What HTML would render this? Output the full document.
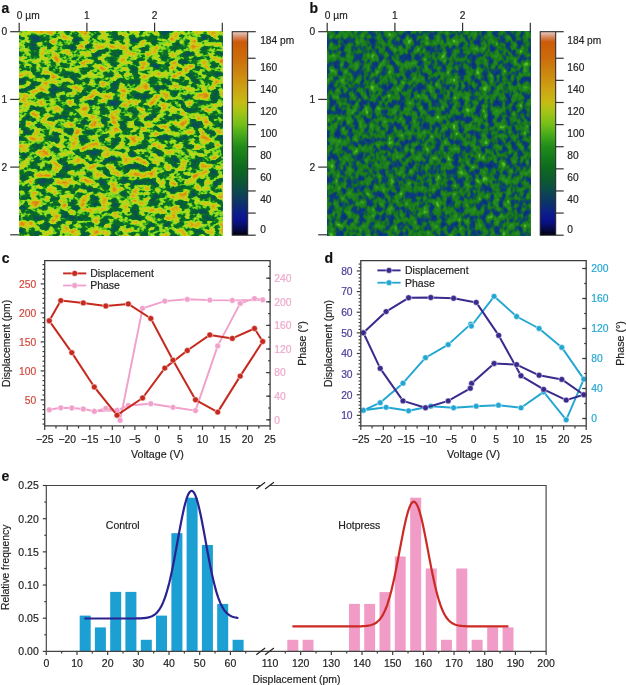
<!DOCTYPE html>
<html lang="en"><head><meta charset="utf-8"><title>Figure</title>
<style>
html,body{margin:0;padding:0;background:#fff;}
body{width:626px;height:685px;overflow:hidden;}
svg{display:block;font-family:"Liberation Sans", sans-serif;}
text{stroke-width:0.18px;paint-order:stroke;}
</style></head><body>
<svg width="626" height="685" viewBox="0 0 626 685">
<defs>
<linearGradient id="cbar" x1="0" y1="1" x2="0" y2="0">
<stop offset="0" stop-color="#02020c"/>
<stop offset="0.03" stop-color="#060a4c"/>
<stop offset="0.07" stop-color="#0a128c"/>
<stop offset="0.11" stop-color="#0c1e8a"/>
<stop offset="0.16" stop-color="#0c3468"/>
<stop offset="0.22" stop-color="#0c4a4c"/>
<stop offset="0.27" stop-color="#0c5a30"/>
<stop offset="0.33" stop-color="#0e6a1e"/>
<stop offset="0.38" stop-color="#147a1c"/>
<stop offset="0.435" stop-color="#208c1a"/>
<stop offset="0.49" stop-color="#44a81a"/>
<stop offset="0.545" stop-color="#74c018"/>
<stop offset="0.61" stop-color="#a8c416"/>
<stop offset="0.65" stop-color="#c4bc14"/>
<stop offset="0.705" stop-color="#cca814"/>
<stop offset="0.76" stop-color="#cc9410"/>
<stop offset="0.87" stop-color="#cc6c0c"/>
<stop offset="0.95" stop-color="#cc5a08"/>
<stop offset="0.975" stop-color="#d88c68"/>
<stop offset="1" stop-color="#e8d0c4"/>
</linearGradient>
<filter id="noiseA" x="0" y="0" width="100%" height="100%" color-interpolation-filters="sRGB"><feTurbulence type="fractalNoise" baseFrequency="0.1 0.14" numOctaves="3" seed="3"/><feColorMatrix type="matrix" values="0 0 0 1.4286 -0.2000  0 0 0 1.4286 -0.2000  0 0 0 1.4286 -0.2000  0 0 0 0 1"/><feComponentTransfer><feFuncR type="table" tableValues="0.047 0.046 0.045 0.044 0.043 0.041 0.04 0.039 0.039 0.039 0.039 0.039 0.039 0.039 0.039 0.04 0.041 0.043 0.044 0.045 0.046 0.075 0.162 0.248 0.355 0.461 0.528 0.57 0.611 0.653 0.691 0.729 0.766 0.801 0.811 0.821 0.831 0.841 0.848 0.852 0.855 0.858 0.862 0.863 0.863 0.863 0.863 0.863"/><feFuncG type="table" tableValues="0.267 0.274 0.282 0.29 0.298 0.306 0.313 0.321 0.33 0.339 0.348 0.357 0.366 0.375 0.383 0.395 0.407 0.419 0.431 0.443 0.455 0.494 0.591 0.687 0.755 0.822 0.85 0.854 0.858 0.862 0.852 0.839 0.827 0.814 0.794 0.774 0.754 0.734 0.714 0.694 0.674 0.653 0.633 0.611 0.588 0.564 0.541 0.518"/><feFuncB type="table" tableValues="0.439 0.424 0.408 0.392 0.377 0.361 0.346 0.33 0.31 0.29 0.27 0.25 0.23 0.21 0.19 0.182 0.175 0.167 0.16 0.153 0.146 0.138 0.128 0.118 0.124 0.131 0.129 0.123 0.117 0.111 0.104 0.098 0.092 0.086 0.084 0.083 0.081 0.079 0.078 0.076 0.074 0.073 0.071 0.069 0.068 0.066 0.064 0.063"/></feComponentTransfer></filter><filter id="noiseB" x="0" y="0" width="100%" height="100%" color-interpolation-filters="sRGB"><feTurbulence type="fractalNoise" baseFrequency="0.17 0.13" numOctaves="2" seed="5"/><feColorMatrix type="matrix" values="0 0 0 1.5152 -0.2273  0 0 0 1.5152 -0.2273  0 0 0 1.5152 -0.2273  0 0 0 0 1"/><feComponentTransfer><feFuncR type="table" tableValues="0.039 0.04 0.041 0.041 0.042 0.043 0.043 0.044 0.045 0.045 0.046 0.047 0.048 0.049 0.051 0.053 0.054 0.058 0.063 0.068 0.076 0.086 0.096 0.103 0.107 0.111 0.114 0.118 0.122 0.125 0.129 0.133 0.143 0.154 0.166 0.178 0.194 0.245 0.295 0.345"/><feFuncG type="table" tableValues="0.173 0.178 0.183 0.189 0.194 0.199 0.205 0.21 0.215 0.221 0.226 0.232 0.24 0.257 0.274 0.291 0.307 0.332 0.363 0.393 0.419 0.442 0.464 0.481 0.487 0.494 0.5 0.506 0.513 0.519 0.526 0.532 0.544 0.557 0.571 0.584 0.602 0.647 0.692 0.737"/><feFuncB type="table" tableValues="0.502 0.5 0.498 0.496 0.494 0.492 0.49 0.488 0.486 0.484 0.482 0.48 0.472 0.45 0.428 0.407 0.385 0.336 0.271 0.205 0.164 0.146 0.129 0.118 0.118 0.118 0.118 0.118 0.118 0.118 0.118 0.118 0.118 0.118 0.118 0.118 0.119 0.126 0.134 0.141"/></feComponentTransfer></filter>
</defs>

<rect x="19.2" y="31.7" width="203.5" height="203.5" fill="#569f25"/>
<rect x="19.2" y="31.7" width="203.5" height="203.5" fill="#569f25" filter="url(#noiseA)"/>
<line x1="19.2" y1="22.7" x2="19.2" y2="31.7" stroke="#333" stroke-width="1.2"/>
<line x1="86.9" y1="22.7" x2="86.9" y2="31.7" stroke="#333" stroke-width="1.2"/>
<line x1="154.6" y1="22.7" x2="154.6" y2="31.7" stroke="#333" stroke-width="1.2"/>
<line x1="222.3" y1="22.7" x2="222.3" y2="31.7" stroke="#333" stroke-width="1.2"/>
<line x1="10.2" y1="31.7" x2="19.2" y2="31.7" stroke="#333" stroke-width="1.2"/>
<line x1="10.2" y1="99.4" x2="19.2" y2="99.4" stroke="#333" stroke-width="1.2"/>
<line x1="10.2" y1="167.1" x2="19.2" y2="167.1" stroke="#333" stroke-width="1.2"/>
<line x1="10.2" y1="234.8" x2="19.2" y2="234.8" stroke="#333" stroke-width="1.2"/>
<text x="16.8" y="19" font-size="10.2" fill="#222" stroke="#222" text-anchor="start" font-weight="normal">0 µm</text>
<text x="86.9" y="19" font-size="10.2" fill="#222" stroke="#222" text-anchor="middle" font-weight="normal">1</text>
<text x="154.6" y="19" font-size="10.2" fill="#222" stroke="#222" text-anchor="middle" font-weight="normal">2</text>
<text x="7.199999999999999" y="35.2" font-size="10.2" fill="#222" stroke="#222" text-anchor="end" font-weight="normal">0</text>
<text x="7.199999999999999" y="102.9" font-size="10.2" fill="#222" stroke="#222" text-anchor="end" font-weight="normal">1</text>
<text x="7.199999999999999" y="170.6" font-size="10.2" fill="#222" stroke="#222" text-anchor="end" font-weight="normal">2</text>
<text x="1.5" y="13" font-size="14" fill="#111" stroke="#111" text-anchor="start" font-weight="bold">a</text>
<rect x="232.2" y="31.7" width="15.5" height="203.5" fill="url(#cbar)" stroke="#222" stroke-width="1"/>
<line x1="247.7" y1="235.2" x2="255.7" y2="235.2" stroke="#333" stroke-width="1.2"/>
<line x1="247.7" y1="213.08" x2="255.7" y2="213.08" stroke="#333" stroke-width="1.2"/>
<line x1="247.7" y1="190.96" x2="255.7" y2="190.96" stroke="#333" stroke-width="1.2"/>
<line x1="247.7" y1="168.84" x2="255.7" y2="168.84" stroke="#333" stroke-width="1.2"/>
<line x1="247.7" y1="146.72" x2="255.7" y2="146.72" stroke="#333" stroke-width="1.2"/>
<line x1="247.7" y1="124.6" x2="255.7" y2="124.6" stroke="#333" stroke-width="1.2"/>
<line x1="247.7" y1="102.48" x2="255.7" y2="102.48" stroke="#333" stroke-width="1.2"/>
<line x1="247.7" y1="80.36" x2="255.7" y2="80.36" stroke="#333" stroke-width="1.2"/>
<line x1="247.7" y1="58.24" x2="255.7" y2="58.24" stroke="#333" stroke-width="1.2"/>
<line x1="247.7" y1="31.7" x2="255.7" y2="31.7" stroke="#333" stroke-width="1.2"/>
<text x="260.2" y="232.6" font-size="10.2" fill="#222" stroke="#222" text-anchor="start" font-weight="normal">0</text>
<text x="260.2" y="203.4" font-size="10.2" fill="#222" stroke="#222" text-anchor="start" font-weight="normal">40</text>
<text x="260.2" y="181.2" font-size="10.2" fill="#222" stroke="#222" text-anchor="start" font-weight="normal">60</text>
<text x="260.2" y="159.1" font-size="10.2" fill="#222" stroke="#222" text-anchor="start" font-weight="normal">80</text>
<text x="260.2" y="137.0" font-size="10.2" fill="#222" stroke="#222" text-anchor="start" font-weight="normal">100</text>
<text x="260.2" y="114.9" font-size="10.2" fill="#222" stroke="#222" text-anchor="start" font-weight="normal">120</text>
<text x="260.2" y="92.8" font-size="10.2" fill="#222" stroke="#222" text-anchor="start" font-weight="normal">140</text>
<text x="260.2" y="70.6" font-size="10.2" fill="#222" stroke="#222" text-anchor="start" font-weight="normal">160</text>
<text x="260.2" y="44.1" font-size="10.2" fill="#222" stroke="#222" text-anchor="start" font-weight="normal">184 pm</text>
<rect x="327.2" y="31.7" width="203.5" height="203.5" fill="#16673c"/>
<rect x="327.2" y="31.7" width="203.5" height="203.5" fill="#16673c" filter="url(#noiseB)"/>
<line x1="327.2" y1="22.7" x2="327.2" y2="31.7" stroke="#333" stroke-width="1.2"/>
<line x1="394.9" y1="22.7" x2="394.9" y2="31.7" stroke="#333" stroke-width="1.2"/>
<line x1="462.6" y1="22.7" x2="462.6" y2="31.7" stroke="#333" stroke-width="1.2"/>
<line x1="530.3" y1="22.7" x2="530.3" y2="31.7" stroke="#333" stroke-width="1.2"/>
<line x1="318.2" y1="31.7" x2="327.2" y2="31.7" stroke="#333" stroke-width="1.2"/>
<line x1="318.2" y1="99.4" x2="327.2" y2="99.4" stroke="#333" stroke-width="1.2"/>
<line x1="318.2" y1="167.1" x2="327.2" y2="167.1" stroke="#333" stroke-width="1.2"/>
<line x1="318.2" y1="234.8" x2="327.2" y2="234.8" stroke="#333" stroke-width="1.2"/>
<text x="324.8" y="19" font-size="10.2" fill="#222" stroke="#222" text-anchor="start" font-weight="normal">0 µm</text>
<text x="394.9" y="19" font-size="10.2" fill="#222" stroke="#222" text-anchor="middle" font-weight="normal">1</text>
<text x="462.6" y="19" font-size="10.2" fill="#222" stroke="#222" text-anchor="middle" font-weight="normal">2</text>
<text x="315.2" y="35.2" font-size="10.2" fill="#222" stroke="#222" text-anchor="end" font-weight="normal">0</text>
<text x="315.2" y="102.9" font-size="10.2" fill="#222" stroke="#222" text-anchor="end" font-weight="normal">1</text>
<text x="315.2" y="170.6" font-size="10.2" fill="#222" stroke="#222" text-anchor="end" font-weight="normal">2</text>
<text x="309.5" y="13" font-size="14" fill="#111" stroke="#111" text-anchor="start" font-weight="bold">b</text>
<rect x="540.2" y="31.7" width="15.5" height="203.5" fill="url(#cbar)" stroke="#222" stroke-width="1"/>
<line x1="555.7" y1="235.2" x2="563.7" y2="235.2" stroke="#333" stroke-width="1.2"/>
<line x1="555.7" y1="213.08" x2="563.7" y2="213.08" stroke="#333" stroke-width="1.2"/>
<line x1="555.7" y1="190.96" x2="563.7" y2="190.96" stroke="#333" stroke-width="1.2"/>
<line x1="555.7" y1="168.84" x2="563.7" y2="168.84" stroke="#333" stroke-width="1.2"/>
<line x1="555.7" y1="146.72" x2="563.7" y2="146.72" stroke="#333" stroke-width="1.2"/>
<line x1="555.7" y1="124.6" x2="563.7" y2="124.6" stroke="#333" stroke-width="1.2"/>
<line x1="555.7" y1="102.48" x2="563.7" y2="102.48" stroke="#333" stroke-width="1.2"/>
<line x1="555.7" y1="80.36" x2="563.7" y2="80.36" stroke="#333" stroke-width="1.2"/>
<line x1="555.7" y1="58.24" x2="563.7" y2="58.24" stroke="#333" stroke-width="1.2"/>
<line x1="555.7" y1="31.7" x2="563.7" y2="31.7" stroke="#333" stroke-width="1.2"/>
<text x="567.3000000000001" y="232.6" font-size="10.2" fill="#222" stroke="#222" text-anchor="start" font-weight="normal">0</text>
<text x="567.3000000000001" y="203.4" font-size="10.2" fill="#222" stroke="#222" text-anchor="start" font-weight="normal">40</text>
<text x="567.3000000000001" y="181.2" font-size="10.2" fill="#222" stroke="#222" text-anchor="start" font-weight="normal">60</text>
<text x="567.3000000000001" y="159.1" font-size="10.2" fill="#222" stroke="#222" text-anchor="start" font-weight="normal">80</text>
<text x="567.3000000000001" y="137.0" font-size="10.2" fill="#222" stroke="#222" text-anchor="start" font-weight="normal">100</text>
<text x="567.3000000000001" y="114.9" font-size="10.2" fill="#222" stroke="#222" text-anchor="start" font-weight="normal">120</text>
<text x="567.3000000000001" y="92.8" font-size="10.2" fill="#222" stroke="#222" text-anchor="start" font-weight="normal">140</text>
<text x="567.3000000000001" y="70.6" font-size="10.2" fill="#222" stroke="#222" text-anchor="start" font-weight="normal">160</text>
<text x="567.3000000000001" y="44.1" font-size="10.2" fill="#222" stroke="#222" text-anchor="start" font-weight="normal">184 pm</text>
<polyline points="49.3,409.8 60.8,407.8 71.8,408 83.3,409 94.3,411.3 105.8,408.3 117,410.3 128.3,405.5 150.8,403.7 173,407.3 195.5,410.6 217.7,345.9 240.2,303.4 254.5,298.6 262.7,299.8 232.3,300.4 209.8,300.1 187.3,299.3 164.8,301.1 142.6,308.3 120.1,420.3 117,410.3 94.3,411.3" fill="none" stroke="#f0a0ca" stroke-width="1.9" stroke-linejoin="round"/>
<circle cx="49.3" cy="409.8" r="2.9" fill="#f0a0ca" stroke="#fff" stroke-width="0.5"/>
<circle cx="60.8" cy="407.8" r="2.9" fill="#f0a0ca" stroke="#fff" stroke-width="0.5"/>
<circle cx="71.8" cy="408" r="2.9" fill="#f0a0ca" stroke="#fff" stroke-width="0.5"/>
<circle cx="83.3" cy="409" r="2.9" fill="#f0a0ca" stroke="#fff" stroke-width="0.5"/>
<circle cx="94.3" cy="411.3" r="2.9" fill="#f0a0ca" stroke="#fff" stroke-width="0.5"/>
<circle cx="105.8" cy="408.3" r="2.9" fill="#f0a0ca" stroke="#fff" stroke-width="0.5"/>
<circle cx="117" cy="410.3" r="2.9" fill="#f0a0ca" stroke="#fff" stroke-width="0.5"/>
<circle cx="128.3" cy="405.5" r="2.9" fill="#f0a0ca" stroke="#fff" stroke-width="0.5"/>
<circle cx="150.8" cy="403.7" r="2.9" fill="#f0a0ca" stroke="#fff" stroke-width="0.5"/>
<circle cx="173" cy="407.3" r="2.9" fill="#f0a0ca" stroke="#fff" stroke-width="0.5"/>
<circle cx="195.5" cy="410.6" r="2.9" fill="#f0a0ca" stroke="#fff" stroke-width="0.5"/>
<circle cx="217.7" cy="345.9" r="2.9" fill="#f0a0ca" stroke="#fff" stroke-width="0.5"/>
<circle cx="240.2" cy="303.4" r="2.9" fill="#f0a0ca" stroke="#fff" stroke-width="0.5"/>
<circle cx="254.5" cy="298.6" r="2.9" fill="#f0a0ca" stroke="#fff" stroke-width="0.5"/>
<circle cx="262.7" cy="299.8" r="2.9" fill="#f0a0ca" stroke="#fff" stroke-width="0.5"/>
<circle cx="232.3" cy="300.4" r="2.9" fill="#f0a0ca" stroke="#fff" stroke-width="0.5"/>
<circle cx="209.8" cy="300.1" r="2.9" fill="#f0a0ca" stroke="#fff" stroke-width="0.5"/>
<circle cx="187.3" cy="299.3" r="2.9" fill="#f0a0ca" stroke="#fff" stroke-width="0.5"/>
<circle cx="164.8" cy="301.1" r="2.9" fill="#f0a0ca" stroke="#fff" stroke-width="0.5"/>
<circle cx="142.6" cy="308.3" r="2.9" fill="#f0a0ca" stroke="#fff" stroke-width="0.5"/>
<circle cx="120.1" cy="420.3" r="2.9" fill="#f0a0ca" stroke="#fff" stroke-width="0.5"/>
<circle cx="117" cy="410.3" r="2.9" fill="#f0a0ca" stroke="#fff" stroke-width="0.5"/>
<circle cx="94.3" cy="411.3" r="2.9" fill="#f0a0ca" stroke="#fff" stroke-width="0.5"/>
<polyline points="49.3,320.8 60.8,300.6 83.3,302.9 105.8,306 128.3,303.9 150.8,318.5 173,360.2 195.5,399.8 217.7,412.1 240.2,376.1 262.7,341.5 254.5,328.5 232.3,338.4 209.8,334.9 187.3,350.5 164.8,368.1 142.6,398 117,415.2 94.3,387 71.8,352.6 49.3,320.8" fill="none" stroke="#c62a1e" stroke-width="2.0" stroke-linejoin="round"/>
<circle cx="49.3" cy="320.8" r="2.95" fill="#c62a1e" stroke="#fff" stroke-width="0.5"/>
<circle cx="60.8" cy="300.6" r="2.95" fill="#c62a1e" stroke="#fff" stroke-width="0.5"/>
<circle cx="83.3" cy="302.9" r="2.95" fill="#c62a1e" stroke="#fff" stroke-width="0.5"/>
<circle cx="105.8" cy="306" r="2.95" fill="#c62a1e" stroke="#fff" stroke-width="0.5"/>
<circle cx="128.3" cy="303.9" r="2.95" fill="#c62a1e" stroke="#fff" stroke-width="0.5"/>
<circle cx="150.8" cy="318.5" r="2.95" fill="#c62a1e" stroke="#fff" stroke-width="0.5"/>
<circle cx="173" cy="360.2" r="2.95" fill="#c62a1e" stroke="#fff" stroke-width="0.5"/>
<circle cx="195.5" cy="399.8" r="2.95" fill="#c62a1e" stroke="#fff" stroke-width="0.5"/>
<circle cx="217.7" cy="412.1" r="2.95" fill="#c62a1e" stroke="#fff" stroke-width="0.5"/>
<circle cx="240.2" cy="376.1" r="2.95" fill="#c62a1e" stroke="#fff" stroke-width="0.5"/>
<circle cx="262.7" cy="341.5" r="2.95" fill="#c62a1e" stroke="#fff" stroke-width="0.5"/>
<circle cx="254.5" cy="328.5" r="2.95" fill="#c62a1e" stroke="#fff" stroke-width="0.5"/>
<circle cx="232.3" cy="338.4" r="2.95" fill="#c62a1e" stroke="#fff" stroke-width="0.5"/>
<circle cx="209.8" cy="334.9" r="2.95" fill="#c62a1e" stroke="#fff" stroke-width="0.5"/>
<circle cx="187.3" cy="350.5" r="2.95" fill="#c62a1e" stroke="#fff" stroke-width="0.5"/>
<circle cx="164.8" cy="368.1" r="2.95" fill="#c62a1e" stroke="#fff" stroke-width="0.5"/>
<circle cx="142.6" cy="398" r="2.95" fill="#c62a1e" stroke="#fff" stroke-width="0.5"/>
<circle cx="117" cy="415.2" r="2.95" fill="#c62a1e" stroke="#fff" stroke-width="0.5"/>
<circle cx="94.3" cy="387" r="2.95" fill="#c62a1e" stroke="#fff" stroke-width="0.5"/>
<circle cx="71.8" cy="352.6" r="2.95" fill="#c62a1e" stroke="#fff" stroke-width="0.5"/>
<circle cx="49.3" cy="320.8" r="2.95" fill="#c62a1e" stroke="#fff" stroke-width="0.5"/>
<path d="M44.7 260.7H270.1V425.9H44.7Z" fill="none" stroke="#3c3c3c" stroke-width="1.3"/>
<line x1="44.7" y1="425.9" x2="44.7" y2="429.9" stroke="#3c3c3c" stroke-width="1.2"/>
<text x="44.7" y="442.7" font-size="10.3" fill="#222" stroke="#222" text-anchor="middle" font-weight="normal">−25</text>
<line x1="67.24" y1="425.9" x2="67.24" y2="429.9" stroke="#3c3c3c" stroke-width="1.2"/>
<text x="67.2" y="442.7" font-size="10.3" fill="#222" stroke="#222" text-anchor="middle" font-weight="normal">−20</text>
<line x1="89.78" y1="425.9" x2="89.78" y2="429.9" stroke="#3c3c3c" stroke-width="1.2"/>
<text x="89.8" y="442.7" font-size="10.3" fill="#222" stroke="#222" text-anchor="middle" font-weight="normal">−15</text>
<line x1="112.32" y1="425.9" x2="112.32" y2="429.9" stroke="#3c3c3c" stroke-width="1.2"/>
<text x="112.3" y="442.7" font-size="10.3" fill="#222" stroke="#222" text-anchor="middle" font-weight="normal">−10</text>
<line x1="134.86" y1="425.9" x2="134.86" y2="429.9" stroke="#3c3c3c" stroke-width="1.2"/>
<text x="134.9" y="442.7" font-size="10.3" fill="#222" stroke="#222" text-anchor="middle" font-weight="normal">−5</text>
<line x1="157.4" y1="425.9" x2="157.4" y2="429.9" stroke="#3c3c3c" stroke-width="1.2"/>
<text x="157.4" y="442.7" font-size="10.3" fill="#222" stroke="#222" text-anchor="middle" font-weight="normal">0</text>
<line x1="179.94" y1="425.9" x2="179.94" y2="429.9" stroke="#3c3c3c" stroke-width="1.2"/>
<text x="179.9" y="442.7" font-size="10.3" fill="#222" stroke="#222" text-anchor="middle" font-weight="normal">5</text>
<line x1="202.48" y1="425.9" x2="202.48" y2="429.9" stroke="#3c3c3c" stroke-width="1.2"/>
<text x="202.5" y="442.7" font-size="10.3" fill="#222" stroke="#222" text-anchor="middle" font-weight="normal">10</text>
<line x1="225.02" y1="425.9" x2="225.02" y2="429.9" stroke="#3c3c3c" stroke-width="1.2"/>
<text x="225.0" y="442.7" font-size="10.3" fill="#222" stroke="#222" text-anchor="middle" font-weight="normal">15</text>
<line x1="247.56" y1="425.9" x2="247.56" y2="429.9" stroke="#3c3c3c" stroke-width="1.2"/>
<text x="247.6" y="442.7" font-size="10.3" fill="#222" stroke="#222" text-anchor="middle" font-weight="normal">20</text>
<line x1="270.1" y1="425.9" x2="270.1" y2="429.9" stroke="#3c3c3c" stroke-width="1.2"/>
<text x="270.1" y="442.7" font-size="10.3" fill="#222" stroke="#222" text-anchor="middle" font-weight="normal">25</text>
<line x1="55.97" y1="425.9" x2="55.97" y2="428.4" stroke="#3c3c3c" stroke-width="1.2"/>
<line x1="78.51" y1="425.9" x2="78.51" y2="428.4" stroke="#3c3c3c" stroke-width="1.2"/>
<line x1="101.05" y1="425.9" x2="101.05" y2="428.4" stroke="#3c3c3c" stroke-width="1.2"/>
<line x1="123.59" y1="425.9" x2="123.59" y2="428.4" stroke="#3c3c3c" stroke-width="1.2"/>
<line x1="146.13" y1="425.9" x2="146.13" y2="428.4" stroke="#3c3c3c" stroke-width="1.2"/>
<line x1="168.67" y1="425.9" x2="168.67" y2="428.4" stroke="#3c3c3c" stroke-width="1.2"/>
<line x1="191.21" y1="425.9" x2="191.21" y2="428.4" stroke="#3c3c3c" stroke-width="1.2"/>
<line x1="213.75" y1="425.9" x2="213.75" y2="428.4" stroke="#3c3c3c" stroke-width="1.2"/>
<line x1="236.29" y1="425.9" x2="236.29" y2="428.4" stroke="#3c3c3c" stroke-width="1.2"/>
<line x1="258.83" y1="425.9" x2="258.83" y2="428.4" stroke="#3c3c3c" stroke-width="1.2"/>
<line x1="40.7" y1="399.9" x2="44.7" y2="399.9" stroke="#3c3c3c" stroke-width="1.2"/>
<text x="36.2" y="403.7" font-size="10.3" fill="#d2483a" stroke="#d2483a" text-anchor="end" font-weight="normal">50</text>
<line x1="40.7" y1="370.9" x2="44.7" y2="370.9" stroke="#3c3c3c" stroke-width="1.2"/>
<text x="36.2" y="374.7" font-size="10.3" fill="#d2483a" stroke="#d2483a" text-anchor="end" font-weight="normal">100</text>
<line x1="40.7" y1="341.9" x2="44.7" y2="341.9" stroke="#3c3c3c" stroke-width="1.2"/>
<text x="36.2" y="345.7" font-size="10.3" fill="#d2483a" stroke="#d2483a" text-anchor="end" font-weight="normal">150</text>
<line x1="40.7" y1="312.9" x2="44.7" y2="312.9" stroke="#3c3c3c" stroke-width="1.2"/>
<text x="36.2" y="316.7" font-size="10.3" fill="#d2483a" stroke="#d2483a" text-anchor="end" font-weight="normal">200</text>
<line x1="40.7" y1="283.9" x2="44.7" y2="283.9" stroke="#3c3c3c" stroke-width="1.2"/>
<text x="36.2" y="287.7" font-size="10.3" fill="#d2483a" stroke="#d2483a" text-anchor="end" font-weight="normal">250</text>
<line x1="42.5" y1="424.07" x2="44.7" y2="424.07" stroke="#3c3c3c" stroke-width="1.2"/>
<line x1="42.5" y1="419.23" x2="44.7" y2="419.23" stroke="#3c3c3c" stroke-width="1.2"/>
<line x1="42.5" y1="414.4" x2="44.7" y2="414.4" stroke="#3c3c3c" stroke-width="1.2"/>
<line x1="42.5" y1="409.57" x2="44.7" y2="409.57" stroke="#3c3c3c" stroke-width="1.2"/>
<line x1="42.5" y1="404.73" x2="44.7" y2="404.73" stroke="#3c3c3c" stroke-width="1.2"/>
<line x1="42.5" y1="395.07" x2="44.7" y2="395.07" stroke="#3c3c3c" stroke-width="1.2"/>
<line x1="42.5" y1="390.23" x2="44.7" y2="390.23" stroke="#3c3c3c" stroke-width="1.2"/>
<line x1="42.5" y1="385.4" x2="44.7" y2="385.4" stroke="#3c3c3c" stroke-width="1.2"/>
<line x1="42.5" y1="380.57" x2="44.7" y2="380.57" stroke="#3c3c3c" stroke-width="1.2"/>
<line x1="42.5" y1="375.73" x2="44.7" y2="375.73" stroke="#3c3c3c" stroke-width="1.2"/>
<line x1="42.5" y1="366.07" x2="44.7" y2="366.07" stroke="#3c3c3c" stroke-width="1.2"/>
<line x1="42.5" y1="361.23" x2="44.7" y2="361.23" stroke="#3c3c3c" stroke-width="1.2"/>
<line x1="42.5" y1="356.4" x2="44.7" y2="356.4" stroke="#3c3c3c" stroke-width="1.2"/>
<line x1="42.5" y1="351.57" x2="44.7" y2="351.57" stroke="#3c3c3c" stroke-width="1.2"/>
<line x1="42.5" y1="346.73" x2="44.7" y2="346.73" stroke="#3c3c3c" stroke-width="1.2"/>
<line x1="42.5" y1="337.07" x2="44.7" y2="337.07" stroke="#3c3c3c" stroke-width="1.2"/>
<line x1="42.5" y1="332.23" x2="44.7" y2="332.23" stroke="#3c3c3c" stroke-width="1.2"/>
<line x1="42.5" y1="327.4" x2="44.7" y2="327.4" stroke="#3c3c3c" stroke-width="1.2"/>
<line x1="42.5" y1="322.57" x2="44.7" y2="322.57" stroke="#3c3c3c" stroke-width="1.2"/>
<line x1="42.5" y1="317.73" x2="44.7" y2="317.73" stroke="#3c3c3c" stroke-width="1.2"/>
<line x1="42.5" y1="308.07" x2="44.7" y2="308.07" stroke="#3c3c3c" stroke-width="1.2"/>
<line x1="42.5" y1="303.23" x2="44.7" y2="303.23" stroke="#3c3c3c" stroke-width="1.2"/>
<line x1="42.5" y1="298.4" x2="44.7" y2="298.4" stroke="#3c3c3c" stroke-width="1.2"/>
<line x1="42.5" y1="293.57" x2="44.7" y2="293.57" stroke="#3c3c3c" stroke-width="1.2"/>
<line x1="42.5" y1="288.73" x2="44.7" y2="288.73" stroke="#3c3c3c" stroke-width="1.2"/>
<line x1="42.5" y1="279.07" x2="44.7" y2="279.07" stroke="#3c3c3c" stroke-width="1.2"/>
<line x1="42.5" y1="274.23" x2="44.7" y2="274.23" stroke="#3c3c3c" stroke-width="1.2"/>
<line x1="42.5" y1="269.4" x2="44.7" y2="269.4" stroke="#3c3c3c" stroke-width="1.2"/>
<line x1="42.5" y1="264.57" x2="44.7" y2="264.57" stroke="#3c3c3c" stroke-width="1.2"/>
<line x1="266.1" y1="419.8" x2="270.1" y2="419.8" stroke="#3c3c3c" stroke-width="1.2"/>
<text x="274.3" y="423.6" font-size="10.3" fill="#eea6ca" stroke="#eea6ca" text-anchor="start" font-weight="normal">0</text>
<line x1="266.1" y1="396.2" x2="270.1" y2="396.2" stroke="#3c3c3c" stroke-width="1.2"/>
<text x="274.3" y="400.0" font-size="10.3" fill="#eea6ca" stroke="#eea6ca" text-anchor="start" font-weight="normal">40</text>
<line x1="266.1" y1="372.6" x2="270.1" y2="372.6" stroke="#3c3c3c" stroke-width="1.2"/>
<text x="274.3" y="376.4" font-size="10.3" fill="#eea6ca" stroke="#eea6ca" text-anchor="start" font-weight="normal">80</text>
<line x1="266.1" y1="349.0" x2="270.1" y2="349.0" stroke="#3c3c3c" stroke-width="1.2"/>
<text x="274.3" y="352.8" font-size="10.3" fill="#eea6ca" stroke="#eea6ca" text-anchor="start" font-weight="normal">120</text>
<line x1="266.1" y1="325.4" x2="270.1" y2="325.4" stroke="#3c3c3c" stroke-width="1.2"/>
<text x="274.3" y="329.2" font-size="10.3" fill="#eea6ca" stroke="#eea6ca" text-anchor="start" font-weight="normal">160</text>
<line x1="266.1" y1="301.8" x2="270.1" y2="301.8" stroke="#3c3c3c" stroke-width="1.2"/>
<text x="274.3" y="305.6" font-size="10.3" fill="#eea6ca" stroke="#eea6ca" text-anchor="start" font-weight="normal">200</text>
<line x1="266.1" y1="278.2" x2="270.1" y2="278.2" stroke="#3c3c3c" stroke-width="1.2"/>
<text x="274.3" y="282.0" font-size="10.3" fill="#eea6ca" stroke="#eea6ca" text-anchor="start" font-weight="normal">240</text>
<line x1="268.1" y1="419.8" x2="270.1" y2="419.8" stroke="#3c3c3c" stroke-width="1.2"/>
<line x1="268.1" y1="408.0" x2="270.1" y2="408.0" stroke="#3c3c3c" stroke-width="1.2"/>
<line x1="268.1" y1="396.2" x2="270.1" y2="396.2" stroke="#3c3c3c" stroke-width="1.2"/>
<line x1="268.1" y1="384.4" x2="270.1" y2="384.4" stroke="#3c3c3c" stroke-width="1.2"/>
<line x1="268.1" y1="372.6" x2="270.1" y2="372.6" stroke="#3c3c3c" stroke-width="1.2"/>
<line x1="268.1" y1="360.8" x2="270.1" y2="360.8" stroke="#3c3c3c" stroke-width="1.2"/>
<line x1="268.1" y1="349.0" x2="270.1" y2="349.0" stroke="#3c3c3c" stroke-width="1.2"/>
<line x1="268.1" y1="337.2" x2="270.1" y2="337.2" stroke="#3c3c3c" stroke-width="1.2"/>
<line x1="268.1" y1="325.4" x2="270.1" y2="325.4" stroke="#3c3c3c" stroke-width="1.2"/>
<line x1="268.1" y1="313.6" x2="270.1" y2="313.6" stroke="#3c3c3c" stroke-width="1.2"/>
<line x1="268.1" y1="301.8" x2="270.1" y2="301.8" stroke="#3c3c3c" stroke-width="1.2"/>
<line x1="268.1" y1="290.0" x2="270.1" y2="290.0" stroke="#3c3c3c" stroke-width="1.2"/>
<line x1="268.1" y1="278.2" x2="270.1" y2="278.2" stroke="#3c3c3c" stroke-width="1.2"/>
<line x1="268.1" y1="266.4" x2="270.1" y2="266.4" stroke="#3c3c3c" stroke-width="1.2"/>
<text x="157.4" y="457.5" font-size="10.7" fill="#222" stroke="#222" text-anchor="middle" font-weight="normal">Voltage (V)</text>
<text x="10.200000000000003" y="343.5" font-size="10.4" fill="#222" stroke="#222" text-anchor="middle" font-weight="normal" transform="rotate(-90 10.200000000000003 343.5)">Displacement (pm)</text>
<text x="306.1" y="343.5" font-size="10.7" fill="#222" stroke="#222" text-anchor="middle" font-weight="normal" transform="rotate(-90 306.1 343.5)">Phase (°)</text>
<line x1="63.1" y1="273.4" x2="86.3" y2="273.4" stroke="#c62a1e" stroke-width="1.9"/>
<circle cx="74.7" cy="273.4" r="2.95" fill="#c62a1e" stroke="#fff" stroke-width="0.5"/>
<line x1="63.1" y1="285.5" x2="86.3" y2="285.5" stroke="#f0a0ca" stroke-width="1.8"/>
<circle cx="74.7" cy="285.5" r="2.9" fill="#f0a0ca" stroke="#fff" stroke-width="0.5"/>
<text x="90.2" y="277.1" font-size="10.5" fill="#222" stroke="#222" text-anchor="start" font-weight="normal">Displacement</text>
<text x="90.2" y="289.3" font-size="10.5" fill="#222" stroke="#222" text-anchor="start" font-weight="normal">Phase</text>
<text x="1.7000000000000028" y="263" font-size="14" fill="#111" stroke="#111" text-anchor="start" font-weight="bold">c</text>
<polyline points="363.4,410.3 380.2,402.7 403,383.2 425.5,357.7 448.2,344.6 470.7,324.1 471.4,326 494.1,296.3 516.6,316.5 539.1,328.5 561.8,347.4 583.8,379.1 566.2,419.8 543.7,391.9 521,407.8 498.5,405.2 476.2,406.2 453.6,407.8 430.8,406.2 408.6,410.8 386.1,407.3 363.4,410.3" fill="none" stroke="#22a6d2" stroke-width="1.9" stroke-linejoin="round"/>
<circle cx="363.4" cy="410.3" r="2.9" fill="#22a6d2" stroke="#fff" stroke-width="0.5"/>
<circle cx="380.2" cy="402.7" r="2.9" fill="#22a6d2" stroke="#fff" stroke-width="0.5"/>
<circle cx="403" cy="383.2" r="2.9" fill="#22a6d2" stroke="#fff" stroke-width="0.5"/>
<circle cx="425.5" cy="357.7" r="2.9" fill="#22a6d2" stroke="#fff" stroke-width="0.5"/>
<circle cx="448.2" cy="344.6" r="2.9" fill="#22a6d2" stroke="#fff" stroke-width="0.5"/>
<circle cx="470.7" cy="324.1" r="2.9" fill="#22a6d2" stroke="#fff" stroke-width="0.5"/>
<circle cx="471.4" cy="326" r="2.9" fill="#22a6d2" stroke="#fff" stroke-width="0.5"/>
<circle cx="494.1" cy="296.3" r="2.9" fill="#22a6d2" stroke="#fff" stroke-width="0.5"/>
<circle cx="516.6" cy="316.5" r="2.9" fill="#22a6d2" stroke="#fff" stroke-width="0.5"/>
<circle cx="539.1" cy="328.5" r="2.9" fill="#22a6d2" stroke="#fff" stroke-width="0.5"/>
<circle cx="561.8" cy="347.4" r="2.9" fill="#22a6d2" stroke="#fff" stroke-width="0.5"/>
<circle cx="583.8" cy="379.1" r="2.9" fill="#22a6d2" stroke="#fff" stroke-width="0.5"/>
<circle cx="566.2" cy="419.8" r="2.9" fill="#22a6d2" stroke="#fff" stroke-width="0.5"/>
<circle cx="543.7" cy="391.9" r="2.9" fill="#22a6d2" stroke="#fff" stroke-width="0.5"/>
<circle cx="521" cy="407.8" r="2.9" fill="#22a6d2" stroke="#fff" stroke-width="0.5"/>
<circle cx="498.5" cy="405.2" r="2.9" fill="#22a6d2" stroke="#fff" stroke-width="0.5"/>
<circle cx="476.2" cy="406.2" r="2.9" fill="#22a6d2" stroke="#fff" stroke-width="0.5"/>
<circle cx="453.6" cy="407.8" r="2.9" fill="#22a6d2" stroke="#fff" stroke-width="0.5"/>
<circle cx="430.8" cy="406.2" r="2.9" fill="#22a6d2" stroke="#fff" stroke-width="0.5"/>
<circle cx="408.6" cy="410.8" r="2.9" fill="#22a6d2" stroke="#fff" stroke-width="0.5"/>
<circle cx="386.1" cy="407.3" r="2.9" fill="#22a6d2" stroke="#fff" stroke-width="0.5"/>
<circle cx="363.4" cy="410.3" r="2.9" fill="#22a6d2" stroke="#fff" stroke-width="0.5"/>
<polyline points="363.4,332.8 386.1,311.6 408.6,297.8 430.8,297.5 453.6,298.3 476.2,302.4 498.7,335.4 521,375.8 543.7,389.4 566.2,400.1 583.8,394.7 561.8,379.4 539.1,375.3 516.6,364.6 494.1,363.5 471.6,383.5 470.3,388.3 448.2,400.9 425.5,407.8 403,400.9 380.2,368.4 363.4,332.8" fill="none" stroke="#3a2a8e" stroke-width="2.0" stroke-linejoin="round"/>
<circle cx="363.4" cy="332.8" r="2.95" fill="#3a2a8e" stroke="#fff" stroke-width="0.5"/>
<circle cx="386.1" cy="311.6" r="2.95" fill="#3a2a8e" stroke="#fff" stroke-width="0.5"/>
<circle cx="408.6" cy="297.8" r="2.95" fill="#3a2a8e" stroke="#fff" stroke-width="0.5"/>
<circle cx="430.8" cy="297.5" r="2.95" fill="#3a2a8e" stroke="#fff" stroke-width="0.5"/>
<circle cx="453.6" cy="298.3" r="2.95" fill="#3a2a8e" stroke="#fff" stroke-width="0.5"/>
<circle cx="476.2" cy="302.4" r="2.95" fill="#3a2a8e" stroke="#fff" stroke-width="0.5"/>
<circle cx="498.7" cy="335.4" r="2.95" fill="#3a2a8e" stroke="#fff" stroke-width="0.5"/>
<circle cx="521" cy="375.8" r="2.95" fill="#3a2a8e" stroke="#fff" stroke-width="0.5"/>
<circle cx="543.7" cy="389.4" r="2.95" fill="#3a2a8e" stroke="#fff" stroke-width="0.5"/>
<circle cx="566.2" cy="400.1" r="2.95" fill="#3a2a8e" stroke="#fff" stroke-width="0.5"/>
<circle cx="583.8" cy="394.7" r="2.95" fill="#3a2a8e" stroke="#fff" stroke-width="0.5"/>
<circle cx="561.8" cy="379.4" r="2.95" fill="#3a2a8e" stroke="#fff" stroke-width="0.5"/>
<circle cx="539.1" cy="375.3" r="2.95" fill="#3a2a8e" stroke="#fff" stroke-width="0.5"/>
<circle cx="516.6" cy="364.6" r="2.95" fill="#3a2a8e" stroke="#fff" stroke-width="0.5"/>
<circle cx="494.1" cy="363.5" r="2.95" fill="#3a2a8e" stroke="#fff" stroke-width="0.5"/>
<circle cx="471.6" cy="383.5" r="2.95" fill="#3a2a8e" stroke="#fff" stroke-width="0.5"/>
<circle cx="470.3" cy="388.3" r="2.95" fill="#3a2a8e" stroke="#fff" stroke-width="0.5"/>
<circle cx="448.2" cy="400.9" r="2.95" fill="#3a2a8e" stroke="#fff" stroke-width="0.5"/>
<circle cx="425.5" cy="407.8" r="2.95" fill="#3a2a8e" stroke="#fff" stroke-width="0.5"/>
<circle cx="403" cy="400.9" r="2.95" fill="#3a2a8e" stroke="#fff" stroke-width="0.5"/>
<circle cx="380.2" cy="368.4" r="2.95" fill="#3a2a8e" stroke="#fff" stroke-width="0.5"/>
<circle cx="363.4" cy="332.8" r="2.95" fill="#3a2a8e" stroke="#fff" stroke-width="0.5"/>
<path d="M360.8 260.7H586.2V425.9H360.8Z" fill="none" stroke="#3c3c3c" stroke-width="1.3"/>
<line x1="360.8" y1="425.9" x2="360.8" y2="429.9" stroke="#3c3c3c" stroke-width="1.2"/>
<text x="360.8" y="442.7" font-size="10.3" fill="#222" stroke="#222" text-anchor="middle" font-weight="normal">−25</text>
<line x1="383.34" y1="425.9" x2="383.34" y2="429.9" stroke="#3c3c3c" stroke-width="1.2"/>
<text x="383.3" y="442.7" font-size="10.3" fill="#222" stroke="#222" text-anchor="middle" font-weight="normal">−20</text>
<line x1="405.88" y1="425.9" x2="405.88" y2="429.9" stroke="#3c3c3c" stroke-width="1.2"/>
<text x="405.9" y="442.7" font-size="10.3" fill="#222" stroke="#222" text-anchor="middle" font-weight="normal">−15</text>
<line x1="428.42" y1="425.9" x2="428.42" y2="429.9" stroke="#3c3c3c" stroke-width="1.2"/>
<text x="428.4" y="442.7" font-size="10.3" fill="#222" stroke="#222" text-anchor="middle" font-weight="normal">−10</text>
<line x1="450.96" y1="425.9" x2="450.96" y2="429.9" stroke="#3c3c3c" stroke-width="1.2"/>
<text x="451.0" y="442.7" font-size="10.3" fill="#222" stroke="#222" text-anchor="middle" font-weight="normal">−5</text>
<line x1="473.5" y1="425.9" x2="473.5" y2="429.9" stroke="#3c3c3c" stroke-width="1.2"/>
<text x="473.5" y="442.7" font-size="10.3" fill="#222" stroke="#222" text-anchor="middle" font-weight="normal">0</text>
<line x1="496.04" y1="425.9" x2="496.04" y2="429.9" stroke="#3c3c3c" stroke-width="1.2"/>
<text x="496.0" y="442.7" font-size="10.3" fill="#222" stroke="#222" text-anchor="middle" font-weight="normal">5</text>
<line x1="518.58" y1="425.9" x2="518.58" y2="429.9" stroke="#3c3c3c" stroke-width="1.2"/>
<text x="518.6" y="442.7" font-size="10.3" fill="#222" stroke="#222" text-anchor="middle" font-weight="normal">10</text>
<line x1="541.12" y1="425.9" x2="541.12" y2="429.9" stroke="#3c3c3c" stroke-width="1.2"/>
<text x="541.1" y="442.7" font-size="10.3" fill="#222" stroke="#222" text-anchor="middle" font-weight="normal">15</text>
<line x1="563.66" y1="425.9" x2="563.66" y2="429.9" stroke="#3c3c3c" stroke-width="1.2"/>
<text x="563.7" y="442.7" font-size="10.3" fill="#222" stroke="#222" text-anchor="middle" font-weight="normal">20</text>
<line x1="586.2" y1="425.9" x2="586.2" y2="429.9" stroke="#3c3c3c" stroke-width="1.2"/>
<text x="586.2" y="442.7" font-size="10.3" fill="#222" stroke="#222" text-anchor="middle" font-weight="normal">25</text>
<line x1="372.07" y1="425.9" x2="372.07" y2="428.4" stroke="#3c3c3c" stroke-width="1.2"/>
<line x1="394.61" y1="425.9" x2="394.61" y2="428.4" stroke="#3c3c3c" stroke-width="1.2"/>
<line x1="417.15" y1="425.9" x2="417.15" y2="428.4" stroke="#3c3c3c" stroke-width="1.2"/>
<line x1="439.69" y1="425.9" x2="439.69" y2="428.4" stroke="#3c3c3c" stroke-width="1.2"/>
<line x1="462.23" y1="425.9" x2="462.23" y2="428.4" stroke="#3c3c3c" stroke-width="1.2"/>
<line x1="484.77" y1="425.9" x2="484.77" y2="428.4" stroke="#3c3c3c" stroke-width="1.2"/>
<line x1="507.31" y1="425.9" x2="507.31" y2="428.4" stroke="#3c3c3c" stroke-width="1.2"/>
<line x1="529.85" y1="425.9" x2="529.85" y2="428.4" stroke="#3c3c3c" stroke-width="1.2"/>
<line x1="552.39" y1="425.9" x2="552.39" y2="428.4" stroke="#3c3c3c" stroke-width="1.2"/>
<line x1="574.93" y1="425.9" x2="574.93" y2="428.4" stroke="#3c3c3c" stroke-width="1.2"/>
<line x1="356.8" y1="415.37" x2="360.8" y2="415.37" stroke="#3c3c3c" stroke-width="1.2"/>
<text x="352.6" y="419.2" font-size="10.3" fill="#4a3a96" stroke="#4a3a96" text-anchor="end" font-weight="normal">10</text>
<line x1="356.8" y1="394.74" x2="360.8" y2="394.74" stroke="#3c3c3c" stroke-width="1.2"/>
<text x="352.6" y="398.5" font-size="10.3" fill="#4a3a96" stroke="#4a3a96" text-anchor="end" font-weight="normal">20</text>
<line x1="356.8" y1="374.11" x2="360.8" y2="374.11" stroke="#3c3c3c" stroke-width="1.2"/>
<text x="352.6" y="377.9" font-size="10.3" fill="#4a3a96" stroke="#4a3a96" text-anchor="end" font-weight="normal">30</text>
<line x1="356.8" y1="353.48" x2="360.8" y2="353.48" stroke="#3c3c3c" stroke-width="1.2"/>
<text x="352.6" y="357.3" font-size="10.3" fill="#4a3a96" stroke="#4a3a96" text-anchor="end" font-weight="normal">40</text>
<line x1="356.8" y1="332.85" x2="360.8" y2="332.85" stroke="#3c3c3c" stroke-width="1.2"/>
<text x="352.6" y="336.7" font-size="10.3" fill="#4a3a96" stroke="#4a3a96" text-anchor="end" font-weight="normal">50</text>
<line x1="356.8" y1="312.22" x2="360.8" y2="312.22" stroke="#3c3c3c" stroke-width="1.2"/>
<text x="352.6" y="316.0" font-size="10.3" fill="#4a3a96" stroke="#4a3a96" text-anchor="end" font-weight="normal">60</text>
<line x1="356.8" y1="291.59" x2="360.8" y2="291.59" stroke="#3c3c3c" stroke-width="1.2"/>
<text x="352.6" y="295.4" font-size="10.3" fill="#4a3a96" stroke="#4a3a96" text-anchor="end" font-weight="normal">70</text>
<line x1="356.8" y1="270.96" x2="360.8" y2="270.96" stroke="#3c3c3c" stroke-width="1.2"/>
<text x="352.6" y="274.8" font-size="10.3" fill="#4a3a96" stroke="#4a3a96" text-anchor="end" font-weight="normal">80</text>
<line x1="358.6" y1="425.69" x2="360.8" y2="425.69" stroke="#3c3c3c" stroke-width="1.2"/>
<line x1="358.6" y1="422.25" x2="360.8" y2="422.25" stroke="#3c3c3c" stroke-width="1.2"/>
<line x1="358.6" y1="418.81" x2="360.8" y2="418.81" stroke="#3c3c3c" stroke-width="1.2"/>
<line x1="358.6" y1="411.93" x2="360.8" y2="411.93" stroke="#3c3c3c" stroke-width="1.2"/>
<line x1="358.6" y1="408.49" x2="360.8" y2="408.49" stroke="#3c3c3c" stroke-width="1.2"/>
<line x1="358.6" y1="405.06" x2="360.8" y2="405.06" stroke="#3c3c3c" stroke-width="1.2"/>
<line x1="358.6" y1="401.62" x2="360.8" y2="401.62" stroke="#3c3c3c" stroke-width="1.2"/>
<line x1="358.6" y1="398.18" x2="360.8" y2="398.18" stroke="#3c3c3c" stroke-width="1.2"/>
<line x1="358.6" y1="391.3" x2="360.8" y2="391.3" stroke="#3c3c3c" stroke-width="1.2"/>
<line x1="358.6" y1="387.86" x2="360.8" y2="387.86" stroke="#3c3c3c" stroke-width="1.2"/>
<line x1="358.6" y1="384.43" x2="360.8" y2="384.43" stroke="#3c3c3c" stroke-width="1.2"/>
<line x1="358.6" y1="380.99" x2="360.8" y2="380.99" stroke="#3c3c3c" stroke-width="1.2"/>
<line x1="358.6" y1="377.55" x2="360.8" y2="377.55" stroke="#3c3c3c" stroke-width="1.2"/>
<line x1="358.6" y1="370.67" x2="360.8" y2="370.67" stroke="#3c3c3c" stroke-width="1.2"/>
<line x1="358.6" y1="367.23" x2="360.8" y2="367.23" stroke="#3c3c3c" stroke-width="1.2"/>
<line x1="358.6" y1="363.79" x2="360.8" y2="363.79" stroke="#3c3c3c" stroke-width="1.2"/>
<line x1="358.6" y1="360.36" x2="360.8" y2="360.36" stroke="#3c3c3c" stroke-width="1.2"/>
<line x1="358.6" y1="356.92" x2="360.8" y2="356.92" stroke="#3c3c3c" stroke-width="1.2"/>
<line x1="358.6" y1="350.04" x2="360.8" y2="350.04" stroke="#3c3c3c" stroke-width="1.2"/>
<line x1="358.6" y1="346.6" x2="360.8" y2="346.6" stroke="#3c3c3c" stroke-width="1.2"/>
<line x1="358.6" y1="343.16" x2="360.8" y2="343.16" stroke="#3c3c3c" stroke-width="1.2"/>
<line x1="358.6" y1="339.73" x2="360.8" y2="339.73" stroke="#3c3c3c" stroke-width="1.2"/>
<line x1="358.6" y1="336.29" x2="360.8" y2="336.29" stroke="#3c3c3c" stroke-width="1.2"/>
<line x1="358.6" y1="329.41" x2="360.8" y2="329.41" stroke="#3c3c3c" stroke-width="1.2"/>
<line x1="358.6" y1="325.97" x2="360.8" y2="325.97" stroke="#3c3c3c" stroke-width="1.2"/>
<line x1="358.6" y1="322.53" x2="360.8" y2="322.53" stroke="#3c3c3c" stroke-width="1.2"/>
<line x1="358.6" y1="319.1" x2="360.8" y2="319.1" stroke="#3c3c3c" stroke-width="1.2"/>
<line x1="358.6" y1="315.66" x2="360.8" y2="315.66" stroke="#3c3c3c" stroke-width="1.2"/>
<line x1="358.6" y1="308.78" x2="360.8" y2="308.78" stroke="#3c3c3c" stroke-width="1.2"/>
<line x1="358.6" y1="305.34" x2="360.8" y2="305.34" stroke="#3c3c3c" stroke-width="1.2"/>
<line x1="358.6" y1="301.9" x2="360.8" y2="301.9" stroke="#3c3c3c" stroke-width="1.2"/>
<line x1="358.6" y1="298.47" x2="360.8" y2="298.47" stroke="#3c3c3c" stroke-width="1.2"/>
<line x1="358.6" y1="295.03" x2="360.8" y2="295.03" stroke="#3c3c3c" stroke-width="1.2"/>
<line x1="358.6" y1="288.15" x2="360.8" y2="288.15" stroke="#3c3c3c" stroke-width="1.2"/>
<line x1="358.6" y1="284.71" x2="360.8" y2="284.71" stroke="#3c3c3c" stroke-width="1.2"/>
<line x1="358.6" y1="281.27" x2="360.8" y2="281.27" stroke="#3c3c3c" stroke-width="1.2"/>
<line x1="358.6" y1="277.84" x2="360.8" y2="277.84" stroke="#3c3c3c" stroke-width="1.2"/>
<line x1="358.6" y1="274.4" x2="360.8" y2="274.4" stroke="#3c3c3c" stroke-width="1.2"/>
<line x1="358.6" y1="267.52" x2="360.8" y2="267.52" stroke="#3c3c3c" stroke-width="1.2"/>
<line x1="358.6" y1="264.08" x2="360.8" y2="264.08" stroke="#3c3c3c" stroke-width="1.2"/>
<line x1="582.2" y1="418.5" x2="586.2" y2="418.5" stroke="#3c3c3c" stroke-width="1.2"/>
<text x="591.2" y="422.3" font-size="10.3" fill="#22a6d2" stroke="#22a6d2" text-anchor="start" font-weight="normal">0</text>
<line x1="582.2" y1="388.5" x2="586.2" y2="388.5" stroke="#3c3c3c" stroke-width="1.2"/>
<text x="591.2" y="392.3" font-size="10.3" fill="#22a6d2" stroke="#22a6d2" text-anchor="start" font-weight="normal">40</text>
<line x1="582.2" y1="358.5" x2="586.2" y2="358.5" stroke="#3c3c3c" stroke-width="1.2"/>
<text x="591.2" y="362.3" font-size="10.3" fill="#22a6d2" stroke="#22a6d2" text-anchor="start" font-weight="normal">80</text>
<line x1="582.2" y1="328.5" x2="586.2" y2="328.5" stroke="#3c3c3c" stroke-width="1.2"/>
<text x="591.2" y="332.3" font-size="10.3" fill="#22a6d2" stroke="#22a6d2" text-anchor="start" font-weight="normal">120</text>
<line x1="582.2" y1="298.5" x2="586.2" y2="298.5" stroke="#3c3c3c" stroke-width="1.2"/>
<text x="591.2" y="302.3" font-size="10.3" fill="#22a6d2" stroke="#22a6d2" text-anchor="start" font-weight="normal">160</text>
<line x1="582.2" y1="268.5" x2="586.2" y2="268.5" stroke="#3c3c3c" stroke-width="1.2"/>
<text x="591.2" y="272.3" font-size="10.3" fill="#22a6d2" stroke="#22a6d2" text-anchor="start" font-weight="normal">200</text>
<line x1="584.2" y1="418.5" x2="586.2" y2="418.5" stroke="#3c3c3c" stroke-width="1.2"/>
<line x1="584.2" y1="403.5" x2="586.2" y2="403.5" stroke="#3c3c3c" stroke-width="1.2"/>
<line x1="584.2" y1="388.5" x2="586.2" y2="388.5" stroke="#3c3c3c" stroke-width="1.2"/>
<line x1="584.2" y1="373.5" x2="586.2" y2="373.5" stroke="#3c3c3c" stroke-width="1.2"/>
<line x1="584.2" y1="358.5" x2="586.2" y2="358.5" stroke="#3c3c3c" stroke-width="1.2"/>
<line x1="584.2" y1="343.5" x2="586.2" y2="343.5" stroke="#3c3c3c" stroke-width="1.2"/>
<line x1="584.2" y1="328.5" x2="586.2" y2="328.5" stroke="#3c3c3c" stroke-width="1.2"/>
<line x1="584.2" y1="313.5" x2="586.2" y2="313.5" stroke="#3c3c3c" stroke-width="1.2"/>
<line x1="584.2" y1="298.5" x2="586.2" y2="298.5" stroke="#3c3c3c" stroke-width="1.2"/>
<line x1="584.2" y1="283.5" x2="586.2" y2="283.5" stroke="#3c3c3c" stroke-width="1.2"/>
<line x1="584.2" y1="268.5" x2="586.2" y2="268.5" stroke="#3c3c3c" stroke-width="1.2"/>
<text x="473.5" y="457.5" font-size="10.7" fill="#222" stroke="#222" text-anchor="middle" font-weight="normal">Voltage (V)</text>
<text x="331.8" y="343.5" font-size="10.4" fill="#222" stroke="#222" text-anchor="middle" font-weight="normal" transform="rotate(-90 331.8 343.5)">Displacement (pm)</text>
<text x="624.2" y="343.5" font-size="10.7" fill="#222" stroke="#222" text-anchor="middle" font-weight="normal" transform="rotate(-90 624.2 343.5)">Phase (°)</text>
<line x1="377.4" y1="270.4" x2="400.6" y2="270.4" stroke="#3a2a8e" stroke-width="1.9"/>
<circle cx="389.0" cy="270.4" r="2.95" fill="#3a2a8e" stroke="#fff" stroke-width="0.5"/>
<line x1="377.4" y1="282.7" x2="400.6" y2="282.7" stroke="#22a6d2" stroke-width="1.8"/>
<circle cx="389.0" cy="282.7" r="2.9" fill="#22a6d2" stroke="#fff" stroke-width="0.5"/>
<text x="405.0" y="274.1" font-size="10.5" fill="#222" stroke="#222" text-anchor="start" font-weight="normal">Displacement</text>
<text x="405.0" y="286.5" font-size="10.5" fill="#222" stroke="#222" text-anchor="start" font-weight="normal">Phase</text>
<text x="324.5" y="263" font-size="14" fill="#111" stroke="#111" text-anchor="start" font-weight="bold">d</text>
<rect x="79.7" y="615.6" width="11.0" height="35.8" fill="#1c9fd2"/>
<rect x="94.9" y="627.4" width="11.0" height="24.0" fill="#1c9fd2"/>
<rect x="110.2" y="591.9" width="11.0" height="59.5" fill="#1c9fd2"/>
<rect x="125.4" y="591.9" width="11.0" height="59.5" fill="#1c9fd2"/>
<rect x="140.8" y="639.8" width="11.0" height="11.6" fill="#1c9fd2"/>
<rect x="156.0" y="615.6" width="11.0" height="35.8" fill="#1c9fd2"/>
<rect x="171.4" y="533.2" width="11.0" height="118.2" fill="#1c9fd2"/>
<rect x="186.6" y="497.7" width="11.0" height="153.7" fill="#1c9fd2"/>
<rect x="201.9" y="545" width="11.0" height="106.4" fill="#1c9fd2"/>
<rect x="217.2" y="603.9" width="11.0" height="47.5" fill="#1c9fd2"/>
<rect x="232.6" y="639.8" width="11.0" height="11.6" fill="#1c9fd2"/>
<rect x="287.3" y="639.8" width="11.0" height="11.6" fill="#f09cc6"/>
<rect x="302.6" y="639.8" width="10.9" height="11.6" fill="#f09cc6"/>
<rect x="349.0" y="603.9" width="10.9" height="47.5" fill="#f09cc6"/>
<rect x="364.2" y="603.9" width="10.9" height="47.5" fill="#f09cc6"/>
<rect x="379.5" y="592.1" width="10.9" height="59.3" fill="#f09cc6"/>
<rect x="394.8" y="556.5" width="10.9" height="94.9" fill="#f09cc6"/>
<rect x="410.2" y="497.7" width="11.0" height="153.7" fill="#f09cc6"/>
<rect x="425.7" y="568.5" width="11.0" height="82.9" fill="#f09cc6"/>
<rect x="441.0" y="639.8" width="10.9" height="11.6" fill="#f09cc6"/>
<rect x="456.3" y="568.5" width="11.0" height="82.9" fill="#f09cc6"/>
<rect x="471.7" y="639.8" width="10.9" height="11.6" fill="#f09cc6"/>
<rect x="487.2" y="627.4" width="10.9" height="24.0" fill="#f09cc6"/>
<rect x="502.6" y="627.4" width="10.9" height="24.0" fill="#f09cc6"/>
<polyline points="84.4,618.5 85.4,618.5 86.4,618.5 87.4,618.5 88.4,618.5 89.4,618.5 90.4,618.5 91.4,618.5 92.4,618.5 93.4,618.5 94.4,618.5 95.4,618.5 96.4,618.5 97.4,618.5 98.4,618.5 99.4,618.5 100.4,618.5 101.4,618.5 102.4,618.5 103.4,618.5 104.4,618.5 105.4,618.5 106.4,618.5 107.4,618.5 108.4,618.5 109.4,618.5 110.4,618.5 111.4,618.5 112.4,618.5 113.4,618.5 114.4,618.5 115.4,618.5 116.4,618.5 117.4,618.5 118.4,618.5 119.4,618.5 120.4,618.5 121.4,618.5 122.4,618.5 123.4,618.5 124.4,618.5 125.4,618.5 126.4,618.5 127.4,618.5 128.4,618.5 129.4,618.5 130.4,618.5 131.4,618.5 132.4,618.5 133.4,618.5 134.4,618.5 135.4,618.5 136.4,618.4 137.4,618.4 138.4,618.4 139.4,618.4 140.4,618.3 141.4,618.3 142.4,618.2 143.4,618.2 144.4,618.1 145.4,617.9 146.4,617.8 147.4,617.6 148.4,617.4 149.4,617.1 150.4,616.8 151.4,616.4 152.4,616.0 153.4,615.4 154.4,614.8 155.4,614.0 156.4,613.1 157.4,612.0 158.4,610.8 159.4,609.4 160.4,607.8 161.4,606.0 162.4,604.0 163.4,601.7 164.4,599.2 165.4,596.3 166.4,593.2 167.4,589.8 168.4,586.1 169.4,582.2 170.4,577.9 171.4,573.4 172.4,568.6 173.4,563.6 174.4,558.5 175.4,553.1 176.4,547.7 177.4,542.2 178.4,536.6 179.4,531.1 180.4,525.8 181.4,520.6 182.4,515.6 183.4,510.9 184.4,506.6 185.4,502.7 186.4,499.3 187.4,496.4 188.4,494.1 189.4,492.4 190.4,491.3 191.4,490.8 192.4,491.0 193.4,491.9 194.4,493.3 195.4,495.4 196.4,498.1 197.4,501.3 198.4,505.0 199.4,509.2 200.4,513.7 201.4,518.5 202.4,523.7 203.4,529.0 204.4,534.4 205.4,539.9 206.4,545.5 207.4,551.0 208.4,556.3 209.4,561.6 210.4,566.7 211.4,571.5 212.4,576.1 213.4,580.5 214.4,584.6 215.4,588.4 216.4,591.9 217.4,595.1 218.4,598.1 219.4,600.7 220.4,603.1 221.4,605.2 222.4,607.1 223.4,608.8 224.4,610.3 225.4,611.6 226.4,612.7 227.4,613.6 228.4,614.5 229.4,615.2 230.4,615.8 231.4,616.3 232.4,616.7 233.4,617.0 234.4,617.3 235.4,617.5 236.4,617.7 237.4,617.9 238.4,618.0" fill="none" stroke="#2a2290" stroke-width="2.2" stroke-linecap="butt"/>
<polyline points="292.4,626.4 293.4,626.4 294.4,626.4 295.4,626.4 296.4,626.4 297.4,626.4 298.4,626.4 299.4,626.4 300.4,626.4 301.4,626.4 302.4,626.4 303.4,626.4 304.4,626.4 305.4,626.4 306.4,626.4 307.4,626.4 308.4,626.4 309.4,626.4 310.4,626.4 311.4,626.4 312.4,626.4 313.4,626.4 314.4,626.4 315.4,626.4 316.4,626.4 317.4,626.4 318.4,626.4 319.4,626.4 320.4,626.4 321.4,626.4 322.4,626.4 323.4,626.4 324.4,626.4 325.4,626.4 326.4,626.4 327.4,626.4 328.4,626.4 329.4,626.4 330.4,626.4 331.4,626.4 332.4,626.4 333.4,626.4 334.4,626.4 335.4,626.4 336.4,626.4 337.4,626.4 338.4,626.4 339.4,626.4 340.4,626.4 341.4,626.4 342.4,626.4 343.4,626.4 344.4,626.4 345.4,626.4 346.4,626.4 347.4,626.4 348.4,626.4 349.4,626.4 350.4,626.4 351.4,626.4 352.4,626.4 353.4,626.4 354.4,626.4 355.4,626.4 356.4,626.4 357.4,626.4 358.4,626.3 359.4,626.3 360.4,626.3 361.4,626.3 362.4,626.2 363.4,626.2 364.4,626.1 365.4,626.0 366.4,625.9 367.4,625.8 368.4,625.6 369.4,625.5 370.4,625.2 371.4,625.0 372.4,624.6 373.4,624.2 374.4,623.7 375.4,623.2 376.4,622.5 377.4,621.7 378.4,620.8 379.4,619.8 380.4,618.6 381.4,617.2 382.4,615.6 383.4,613.8 384.4,611.8 385.4,609.5 386.4,607.0 387.4,604.3 388.4,601.2 389.4,597.9 390.4,594.3 391.4,590.5 392.4,586.3 393.4,582.0 394.4,577.4 395.4,572.5 396.4,567.5 397.4,562.4 398.4,557.1 399.4,551.8 400.4,546.5 401.4,541.2 402.4,536.1 403.4,531.0 404.4,526.2 405.4,521.7 406.4,517.5 407.4,513.7 408.4,510.4 409.4,507.5 410.4,505.2 411.4,503.5 412.4,502.3 413.4,501.7 414.4,501.8 415.4,502.5 416.4,503.8 417.4,505.6 418.4,508.1 419.4,511.0 420.4,514.5 421.4,518.3 422.4,522.6 423.4,527.2 424.4,532.0 425.4,537.1 426.4,542.3 427.4,547.6 428.4,552.9 429.4,558.2 430.4,563.4 431.4,568.6 432.4,573.5 433.4,578.3 434.4,582.9 435.4,587.2 436.4,591.3 437.4,595.1 438.4,598.6 439.4,601.8 440.4,604.8 441.4,607.5 442.4,610.0 443.4,612.2 444.4,614.2 445.4,615.9 446.4,617.5 447.4,618.8 448.4,620.0 449.4,621.0 450.4,621.9 451.4,622.7 452.4,623.3 453.4,623.8 454.4,624.3 455.4,624.7 456.4,625.0 457.4,625.3 458.4,625.5 459.4,625.7 460.4,625.8 461.4,625.9 462.4,626.0 463.4,626.1 464.4,626.2 465.4,626.2 466.4,626.3 467.4,626.3 468.4,626.3 469.4,626.3 470.4,626.4 471.4,626.4 472.4,626.4 473.4,626.4 474.4,626.4 475.4,626.4 476.4,626.4 477.4,626.4 478.4,626.4 479.4,626.4 480.4,626.4 481.4,626.4 482.4,626.4 483.4,626.4 484.4,626.4 485.4,626.4 486.4,626.4 487.4,626.4 488.4,626.4 489.4,626.4 490.4,626.4 491.4,626.4 492.4,626.4 493.4,626.4 494.4,626.4 495.4,626.4 496.4,626.4 497.4,626.4 498.4,626.4 499.4,626.4 500.4,626.4 501.4,626.4 502.4,626.4 503.4,626.4 504.4,626.4 505.4,626.4 506.4,626.4 507.4,626.4 508.4,626.4" fill="none" stroke="#cc2a24" stroke-width="2.2" stroke-linecap="butt"/>
<path d="M46.3 651.4V485.5H260.5M270 485.5H546.1V651.4H46.3" fill="none" stroke="#444" stroke-width="1.15"/>
<line x1="256.3" y1="488.9" x2="265.1" y2="482.2" stroke="#222" stroke-width="1.2"/>
<line x1="265.1" y1="488.9" x2="273.9" y2="482.2" stroke="#222" stroke-width="1.2"/>
<line x1="256.3" y1="654.8" x2="265.1" y2="648.1" stroke="#222" stroke-width="1.2"/>
<line x1="265.1" y1="654.8" x2="273.9" y2="648.1" stroke="#222" stroke-width="1.2"/>
<line x1="42.8" y1="651.4" x2="46.3" y2="651.4" stroke="#3c3c3c" stroke-width="1.2"/>
<text x="38.8" y="655.2" font-size="10.5" fill="#222" stroke="#222" text-anchor="end" font-weight="normal">0.00</text>
<line x1="42.8" y1="618.22" x2="46.3" y2="618.22" stroke="#3c3c3c" stroke-width="1.2"/>
<text x="38.8" y="622.0" font-size="10.5" fill="#222" stroke="#222" text-anchor="end" font-weight="normal">0.05</text>
<line x1="42.8" y1="585.04" x2="46.3" y2="585.04" stroke="#3c3c3c" stroke-width="1.2"/>
<text x="38.8" y="588.8" font-size="10.5" fill="#222" stroke="#222" text-anchor="end" font-weight="normal">0.10</text>
<line x1="42.8" y1="551.86" x2="46.3" y2="551.86" stroke="#3c3c3c" stroke-width="1.2"/>
<text x="38.8" y="555.7" font-size="10.5" fill="#222" stroke="#222" text-anchor="end" font-weight="normal">0.15</text>
<line x1="42.8" y1="518.68" x2="46.3" y2="518.68" stroke="#3c3c3c" stroke-width="1.2"/>
<text x="38.8" y="522.5" font-size="10.5" fill="#222" stroke="#222" text-anchor="end" font-weight="normal">0.20</text>
<line x1="42.8" y1="485.5" x2="46.3" y2="485.5" stroke="#3c3c3c" stroke-width="1.2"/>
<text x="38.8" y="489.3" font-size="10.5" fill="#222" stroke="#222" text-anchor="end" font-weight="normal">0.25</text>
<line x1="44.3" y1="634.81" x2="46.3" y2="634.81" stroke="#3c3c3c" stroke-width="1.2"/>
<line x1="44.3" y1="601.63" x2="46.3" y2="601.63" stroke="#3c3c3c" stroke-width="1.2"/>
<line x1="44.3" y1="568.45" x2="46.3" y2="568.45" stroke="#3c3c3c" stroke-width="1.2"/>
<line x1="44.3" y1="535.27" x2="46.3" y2="535.27" stroke="#3c3c3c" stroke-width="1.2"/>
<line x1="44.3" y1="502.09" x2="46.3" y2="502.09" stroke="#3c3c3c" stroke-width="1.2"/>
<line x1="46.3" y1="651.4" x2="46.3" y2="654.9" stroke="#3c3c3c" stroke-width="1.2"/>
<text x="46.3" y="666.5" font-size="10.5" fill="#222" stroke="#222" text-anchor="middle" font-weight="normal">0</text>
<line x1="76.98" y1="651.4" x2="76.98" y2="654.9" stroke="#3c3c3c" stroke-width="1.2"/>
<text x="77.0" y="666.5" font-size="10.5" fill="#222" stroke="#222" text-anchor="middle" font-weight="normal">10</text>
<line x1="107.66" y1="651.4" x2="107.66" y2="654.9" stroke="#3c3c3c" stroke-width="1.2"/>
<text x="107.7" y="666.5" font-size="10.5" fill="#222" stroke="#222" text-anchor="middle" font-weight="normal">20</text>
<line x1="138.34" y1="651.4" x2="138.34" y2="654.9" stroke="#3c3c3c" stroke-width="1.2"/>
<text x="138.3" y="666.5" font-size="10.5" fill="#222" stroke="#222" text-anchor="middle" font-weight="normal">30</text>
<line x1="169.02" y1="651.4" x2="169.02" y2="654.9" stroke="#3c3c3c" stroke-width="1.2"/>
<text x="169.0" y="666.5" font-size="10.5" fill="#222" stroke="#222" text-anchor="middle" font-weight="normal">40</text>
<line x1="199.7" y1="651.4" x2="199.7" y2="654.9" stroke="#3c3c3c" stroke-width="1.2"/>
<text x="199.7" y="666.5" font-size="10.5" fill="#222" stroke="#222" text-anchor="middle" font-weight="normal">50</text>
<line x1="230.38" y1="651.4" x2="230.38" y2="654.9" stroke="#3c3c3c" stroke-width="1.2"/>
<text x="230.4" y="666.5" font-size="10.5" fill="#222" stroke="#222" text-anchor="middle" font-weight="normal">60</text>
<line x1="61.64" y1="651.4" x2="61.64" y2="653.4" stroke="#3c3c3c" stroke-width="1.2"/>
<line x1="92.32" y1="651.4" x2="92.32" y2="653.4" stroke="#3c3c3c" stroke-width="1.2"/>
<line x1="123.0" y1="651.4" x2="123.0" y2="653.4" stroke="#3c3c3c" stroke-width="1.2"/>
<line x1="153.68" y1="651.4" x2="153.68" y2="653.4" stroke="#3c3c3c" stroke-width="1.2"/>
<line x1="184.36" y1="651.4" x2="184.36" y2="653.4" stroke="#3c3c3c" stroke-width="1.2"/>
<line x1="215.04" y1="651.4" x2="215.04" y2="653.4" stroke="#3c3c3c" stroke-width="1.2"/>
<line x1="245.72" y1="651.4" x2="245.72" y2="653.4" stroke="#3c3c3c" stroke-width="1.2"/>
<text x="270.0" y="666.5" font-size="10.5" fill="#222" stroke="#222" text-anchor="middle" font-weight="normal">110</text>
<line x1="300.66" y1="651.4" x2="300.66" y2="654.9" stroke="#3c3c3c" stroke-width="1.2"/>
<text x="300.7" y="666.5" font-size="10.5" fill="#222" stroke="#222" text-anchor="middle" font-weight="normal">120</text>
<line x1="331.34" y1="651.4" x2="331.34" y2="654.9" stroke="#3c3c3c" stroke-width="1.2"/>
<text x="331.3" y="666.5" font-size="10.5" fill="#222" stroke="#222" text-anchor="middle" font-weight="normal">130</text>
<line x1="362.02" y1="651.4" x2="362.02" y2="654.9" stroke="#3c3c3c" stroke-width="1.2"/>
<text x="362.0" y="666.5" font-size="10.5" fill="#222" stroke="#222" text-anchor="middle" font-weight="normal">140</text>
<line x1="392.7" y1="651.4" x2="392.7" y2="654.9" stroke="#3c3c3c" stroke-width="1.2"/>
<text x="392.7" y="666.5" font-size="10.5" fill="#222" stroke="#222" text-anchor="middle" font-weight="normal">150</text>
<line x1="423.38" y1="651.4" x2="423.38" y2="654.9" stroke="#3c3c3c" stroke-width="1.2"/>
<text x="423.4" y="666.5" font-size="10.5" fill="#222" stroke="#222" text-anchor="middle" font-weight="normal">160</text>
<line x1="454.06" y1="651.4" x2="454.06" y2="654.9" stroke="#3c3c3c" stroke-width="1.2"/>
<text x="454.1" y="666.5" font-size="10.5" fill="#222" stroke="#222" text-anchor="middle" font-weight="normal">170</text>
<line x1="484.74" y1="651.4" x2="484.74" y2="654.9" stroke="#3c3c3c" stroke-width="1.2"/>
<text x="484.7" y="666.5" font-size="10.5" fill="#222" stroke="#222" text-anchor="middle" font-weight="normal">180</text>
<line x1="515.42" y1="651.4" x2="515.42" y2="654.9" stroke="#3c3c3c" stroke-width="1.2"/>
<text x="515.4" y="666.5" font-size="10.5" fill="#222" stroke="#222" text-anchor="middle" font-weight="normal">190</text>
<line x1="546.1" y1="651.4" x2="546.1" y2="654.9" stroke="#3c3c3c" stroke-width="1.2"/>
<text x="546.1" y="666.5" font-size="10.5" fill="#222" stroke="#222" text-anchor="middle" font-weight="normal">200</text>
<line x1="285.32" y1="651.4" x2="285.32" y2="653.4" stroke="#3c3c3c" stroke-width="1.2"/>
<line x1="316.0" y1="651.4" x2="316.0" y2="653.4" stroke="#3c3c3c" stroke-width="1.2"/>
<line x1="346.68" y1="651.4" x2="346.68" y2="653.4" stroke="#3c3c3c" stroke-width="1.2"/>
<line x1="377.36" y1="651.4" x2="377.36" y2="653.4" stroke="#3c3c3c" stroke-width="1.2"/>
<line x1="408.04" y1="651.4" x2="408.04" y2="653.4" stroke="#3c3c3c" stroke-width="1.2"/>
<line x1="438.72" y1="651.4" x2="438.72" y2="653.4" stroke="#3c3c3c" stroke-width="1.2"/>
<line x1="469.4" y1="651.4" x2="469.4" y2="653.4" stroke="#3c3c3c" stroke-width="1.2"/>
<line x1="500.08" y1="651.4" x2="500.08" y2="653.4" stroke="#3c3c3c" stroke-width="1.2"/>
<line x1="530.76" y1="651.4" x2="530.76" y2="653.4" stroke="#3c3c3c" stroke-width="1.2"/>
<text x="296.5" y="682.5" font-size="10.5" fill="#222" stroke="#222" text-anchor="middle" font-weight="normal">Displacement (pm)</text>
<text x="9.2" y="567.3" font-size="10.3" fill="#222" stroke="#222" text-anchor="middle" font-weight="normal" transform="rotate(-90 9.2 567.3)">Relative frequency</text>
<text x="105.8" y="529" font-size="10.5" fill="#222" stroke="#222" text-anchor="start" font-weight="normal">Control</text>
<text x="338.3" y="529" font-size="10.5" fill="#222" stroke="#222" text-anchor="start" font-weight="normal">Hotpress</text>
<text x="1.5" y="481" font-size="14" fill="#111" stroke="#111" text-anchor="start" font-weight="bold">e</text>
</svg></body></html>
